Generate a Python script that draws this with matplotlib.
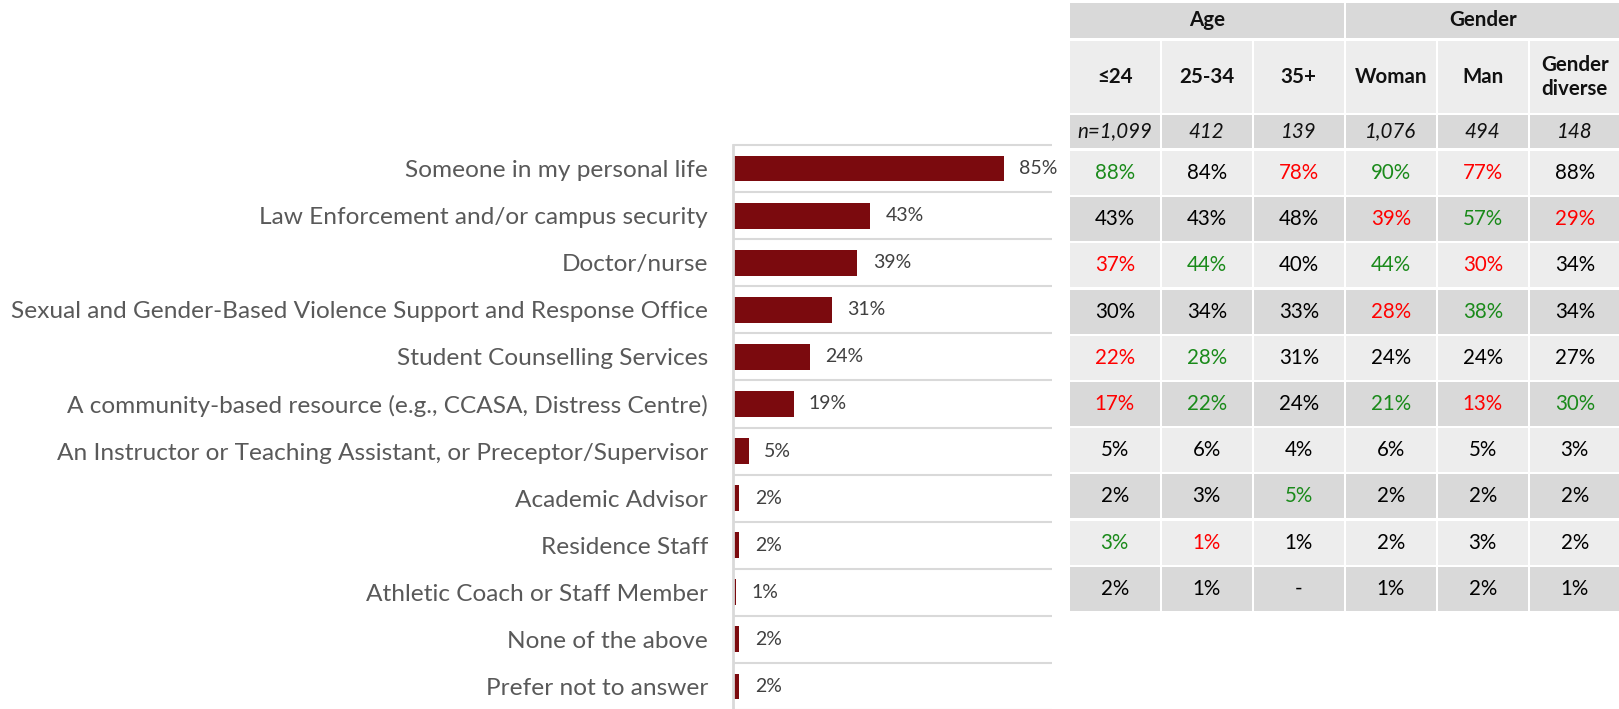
import matplotlib
matplotlib.use("Agg")
import matplotlib.pyplot as plt
from matplotlib.patches import Rectangle

plt.rcParams['font.family'] = ['Lato', 'DejaVu Sans']

# bar chart data
categories = [
    "Someone in my personal life",
    "Law Enforcement and/or campus security",
    "Doctor/nurse",
    "Sexual and Gender-Based Violence Support and Response Office",
    "Student Counselling Services",
    "A community-based resource (e.g., CCASA, Distress Centre)",
    "An Instructor or Teaching Assistant, or Preceptor/Supervisor",
    "Academic Advisor",
    "Residence Staff",
    "Athletic Coach or Staff Member",
    "None of the above",
    "Prefer not to answer",
]
overall = [85, 43, 39, 31, 24, 19, 5, 2, 2, 1, 2, 2]

# table data
groups = ["Age", "Gender"]
group_span = [3, 3]
subgroups = ["≤24", "25-34", "35+", "Woman", "Man", "Gender\ndiverse"]
n_sizes = ["n=1,099", "412", "139", "1,076", "494", "148"]
# columns: <=24, 25-34, 35+, Woman, Man, Gender diverse
table_vals = [
    ["88%", "84%", "78%", "90%", "77%", "88%"],
    ["43%", "43%", "48%", "39%", "57%", "29%"],
    ["37%", "44%", "40%", "44%", "30%", "34%"],
    ["30%", "34%", "33%", "28%", "38%", "34%"],
    ["22%", "28%", "31%", "24%", "24%", "27%"],
    ["17%", "22%", "24%", "21%", "13%", "30%"],
    ["5%", "6%", "4%", "6%", "5%", "3%"],
    ["2%", "3%", "5%", "2%", "2%", "2%"],
    ["3%", "1%", "1%", "2%", "3%", "2%"],
    ["2%", "1%", "-", "1%", "2%", "1%"],
]
# + significantly higher, - significantly lower, . no difference
table_sig = [
    "+.-+-.",
    "...-+-",
    "-+.+-.",
    "...-+.",
    "-+....",
    "-+.+-+",
    "......",
    "..+...",
    "+-....",
    "......",
]

BAR = "#7B0A0E"
LIGHT = "#EDEDED"
DARK = "#D9D9D9"
sig_color = {"+": "#1A8A1A", "-": "#FF0000", ".": "black"}

W, H = 1619, 709
fig = plt.figure(figsize=(W / 100, H / 100), dpi=100)

# --- bars ---
ax = fig.add_axes([733 / W, -1 / H, (1052 - 733) / W, (710 - 145) / H])
y = list(range(len(categories)))
ax.barh(y, overall, height=0.55, color=BAR)
for yi, v in zip(y, overall):
    ax.text(v + 4.8, yi, f"{v}%", va="center", ha="left", fontsize=14, color="#404040")
ax.set_xlim(0, 100)
ax.set_ylim(len(categories) - 0.5, -0.5)
ax.hlines([i - 0.5 for i in range(len(categories) + 1)], 0, 100, color=DARK, lw=1.5, clip_on=False)
ax.set_yticks(y)
ax.set_yticklabels(categories, fontsize=17.6, color="#595959")
ax.tick_params(axis="y", length=0, pad=18)
ax.set_xticks([])
for s in ["top", "right", "bottom"]:
    ax.spines[s].set_visible(False)
ax.spines["left"].set_color(DARK)
ax.spines["left"].set_linewidth(2)

# --- table ---
tax = fig.add_axes([0, 0, 1, 1])
tax.set_xlim(0, W)
tax.set_ylim(H, 0)
tax.axis("off")

x0, cw, gap = 1070, 92, 2.5
fs = 14.8

def cell(x, y0, w, h, bg, text, **kw):
    tax.add_patch(Rectangle((x, y0), w - gap, h, facecolor=bg, edgecolor="none"))
    tax.text(x + (w - gap) / 2, y0 + h / 2, text, ha="center", va="center", **kw)

col = 0
for g, span in zip(groups, group_span):
    cell(x0 + col * cw, 3, span * cw, 35, DARK, g, fontsize=fs, fontweight="bold", color="#111111")
    col += span

for j, s in enumerate(subgroups):
    cell(x0 + j * cw, 41, cw, 72, LIGHT, s, fontsize=fs, fontweight="bold", color="#111111",
         linespacing=1.25)

for j, s in enumerate(n_sizes):
    cell(x0 + j * cw, 115, cw, 33, DARK, s, fontsize=fs, style="italic", color="#111111")

for i, row in enumerate(table_vals):
    top = 151 + i * 46.2
    bg = LIGHT if i % 2 == 0 else DARK
    for j, v in enumerate(row):
        cell(x0 + j * cw, top, cw, 44, bg, v, fontsize=fs, color=sig_color[table_sig[i][j]])

fig.savefig("out.png", dpi=100)
